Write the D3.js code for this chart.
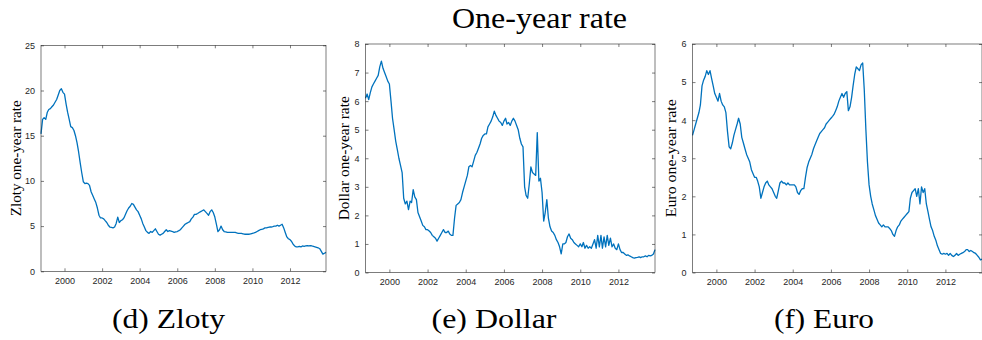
<!DOCTYPE html>
<html>
<head>
<meta charset="utf-8">
<script src="https://cdn.jsdelivr.net/npm/d3@7"></script>
<style>
  html, body { margin: 0; padding: 0; background: #fff; }
  .tick text { font-family: "Liberation Sans", Arial, sans-serif; font-size: 9px; fill: #262626; }
  .tick line { stroke: #262626; stroke-width: 0.6; }
</style>
</head>
<body>
<svg id="chart" width="982" height="340" style="display:block"></svg>
<script>
// Monthly observations, October 1998 through December 2013 (183 months).
const firstMonth = new Date(1998, 9, 1);
const lastMonth = new Date(2013, 11, 1);

const yearTicks = [2000, 2002, 2004, 2006, 2008, 2010, 2012];

// Zloty one-year rate (%)
const zloty = [
  /*1998*/ 15.2, 16.8, 17.0,
  /*1999*/ 16.8, 17.6, 17.9, 18.0, 18.2, 18.4, 18.7, 19.0, 19.5, 20.0, 20.2, 19.8,
  /*2000*/ 19.6, 18.5, 17.6, 16.8, 16.0, 15.9, 15.6, 15.0, 14.2, 13.2, 12.0, 10.9,
  /*2001*/ 9.9, 9.7, 9.75, 9.7, 9.5, 8.8, 8.4, 8.0, 7.6, 7.0, 6.2, 5.9,
  /*2002*/ 5.9, 5.8, 5.6, 5.4, 5.1, 4.9, 4.85, 4.8, 4.9, 5.3, 6.0, 5.4,
  /*2003*/ 5.6, 5.7, 5.9, 6.3, 6.7, 7.0, 7.2, 7.5, 7.4, 7.1, 6.8, 6.6,
  /*2004*/ 6.2, 5.8, 5.3, 4.9, 4.5, 4.3, 4.2, 4.4, 4.3, 4.5, 4.7, 4.4,
  /*2005*/ 4.1, 4.0, 4.1, 4.2, 4.4, 4.6, 4.4, 4.5, 4.45, 4.4, 4.3, 4.35,
  /*2006*/ 4.4, 4.5, 4.6, 4.8, 5.0, 5.2, 5.3, 5.4, 5.5, 5.8, 6.0, 6.3,
  /*2007*/ 6.3, 6.4, 6.5, 6.6, 6.7, 6.8, 6.6, 6.4, 6.2, 6.6, 6.8, 6.5,
  /*2008*/ 6.0, 5.2, 4.4, 4.6, 5.0, 4.6, 4.4, 4.35, 4.3, 4.3, 4.3, 4.3,
  /*2009*/ 4.3, 4.3, 4.25, 4.2, 4.2, 4.2, 4.15, 4.1, 4.1, 4.1, 4.1, 4.15,
  /*2010*/ 4.2, 4.25, 4.3, 4.4, 4.5, 4.6, 4.65, 4.7, 4.8, 4.8, 4.85, 4.9,
  /*2011*/ 4.9, 4.95, 5.0, 5.0, 5.1, 5.0, 5.1, 5.2, 4.8, 4.3, 3.8, 3.6,
  /*2012*/ 3.5, 3.3, 3.0, 2.8, 2.7, 2.7, 2.75, 2.7, 2.8, 2.75, 2.8, 2.85,
  /*2013*/ 2.8, 2.85, 2.8, 2.75, 2.7, 2.65, 2.6, 2.5, 2.2, 1.9, 2.0, 2.1
];

// Dollar one-year rate (%)
const dollar = [
  /*1998*/ 6.1, 6.25, 6.05,
  /*1999*/ 6.3, 6.5, 6.6, 6.7, 6.8, 6.9, 7.2, 7.4, 7.15, 7.0, 6.85, 6.7,
  /*2000*/ 6.6, 6.0, 5.4, 5.0, 4.6, 4.3, 4.0, 3.75, 3.5, 2.6, 2.4, 2.5,
  /*2001*/ 2.2, 2.5, 2.45, 2.9, 2.65, 2.55, 2.1, 1.95, 1.8, 1.65, 1.6, 1.5,
  /*2002*/ 1.5, 1.45, 1.4, 1.3, 1.25, 1.2, 1.1, 1.2, 1.3, 1.4, 1.5, 1.4,
  /*2003*/ 1.4, 1.45, 1.35, 1.3, 1.3, 1.9, 2.35, 2.4, 2.45, 2.55, 2.8, 3.0,
  /*2004*/ 3.2, 3.4, 3.7, 3.75, 3.7, 3.9, 4.1, 4.2, 4.35, 4.5, 4.7, 4.8,
  /*2005*/ 4.85, 4.85, 5.1, 5.2, 5.3, 5.45, 5.65, 5.5, 5.4, 5.3, 5.25, 5.15,
  /*2006*/ 5.3, 5.4, 5.2, 5.25, 5.15, 5.3, 5.4, 5.3, 5.15, 5.0, 4.7, 4.5,
  /*2007*/ 4.4, 3.0, 2.7, 2.6, 3.1, 3.7, 3.5, 3.45, 3.4, 4.9, 3.2, 3.3,
  /*2008*/ 2.8, 1.8, 2.1, 2.55, 1.9, 1.6, 1.45, 1.4, 1.3, 1.15, 1.05, 0.9,
  /*2009*/ 0.65, 1.0, 1.0, 1.05, 1.25, 1.35, 1.2, 1.15, 1.05, 1.0, 0.95, 0.9,
  /*2010*/ 1.0, 0.9, 1.05, 0.85, 0.95, 0.85, 0.9, 0.85, 1.0, 1.15, 0.85, 1.3,
  /*2011*/ 0.9, 1.3, 0.85, 1.25, 0.9, 1.3, 0.95, 1.2, 0.9, 1.0, 0.85, 0.8,
  /*2012*/ 1.0, 0.8, 0.7, 0.7, 0.65, 0.6, 0.62, 0.58, 0.55, 0.52, 0.5, 0.52,
  /*2013*/ 0.53, 0.55, 0.52, 0.55, 0.55, 0.58, 0.55, 0.6, 0.58, 0.6, 0.65, 0.8
];

// Euro one-year rate (%)
const euro = [
  /*1998*/ 3.6, 3.75, 3.9,
  /*1999*/ 4.05, 4.2, 4.4, 4.9, 5.05, 5.15, 5.3, 5.2, 5.3, 5.1, 4.9, 4.7,
  /*2000*/ 4.6, 4.5, 4.7, 4.5, 4.4, 4.35, 4.2, 3.7, 3.3, 3.25, 3.4, 3.6,
  /*2001*/ 3.75, 3.9, 4.05, 3.9, 3.55, 3.4, 3.25, 3.1, 3.0, 2.9, 2.7, 2.6,
  /*2002*/ 2.5, 2.5, 2.4, 2.25, 1.95, 2.1, 2.25, 2.35, 2.4, 2.3, 2.25, 2.2,
  /*2003*/ 2.1, 2.0, 1.95, 2.15, 2.35, 2.4, 2.35, 2.35, 2.3, 2.35, 2.3, 2.3,
  /*2004*/ 2.3, 2.3, 2.25, 2.1, 2.05, 2.15, 2.2, 2.2, 2.5, 2.75, 2.9, 3.0,
  /*2005*/ 3.1, 3.25, 3.35, 3.45, 3.55, 3.65, 3.7, 3.75, 3.8, 3.9, 3.95, 4.0,
  /*2006*/ 4.05, 4.1, 4.15, 4.25, 4.35, 4.5, 4.6, 4.7, 4.6, 4.7, 4.75, 4.25,
  /*2007*/ 4.35, 4.6, 4.9, 5.2, 5.4, 5.35, 5.3, 5.45, 5.5, 4.8, 3.75, 2.9,
  /*2008*/ 2.3, 2.0, 1.8, 1.65, 1.5, 1.4, 1.3, 1.25, 1.2, 1.25, 1.2, 1.2,
  /*2009*/ 1.2, 1.15, 1.1, 1.0, 0.95, 1.1, 1.2, 1.25, 1.35, 1.4, 1.45, 1.5,
  /*2010*/ 1.55, 1.6, 1.95, 2.1, 2.15, 2.2, 2.0, 2.2, 1.8, 2.25, 2.1, 2.2,
  /*2011*/ 1.8, 1.6, 1.4, 1.2, 1.1, 0.95, 0.85, 0.7, 0.6, 0.5, 0.48, 0.5,
  /*2012*/ 0.48, 0.5, 0.45, 0.5, 0.45, 0.42, 0.45, 0.5, 0.45, 0.48, 0.5, 0.52,
  /*2013*/ 0.55, 0.6, 0.6, 0.55, 0.58, 0.55, 0.52, 0.5, 0.45, 0.4, 0.33, 0.35
];

const months = d3.timeMonth.range(firstMonth, d3.timeMonth.offset(lastMonth, 1));

const panels = [
  { values: zloty,  yTicks: [0, 5, 10, 15, 20, 25], yMax: 25, ylabel: "Zloty one-year rate",  ylabelLen: 116,
    caption: "(d) Zloty",  captionLen: 113, captionX: 168.5,
    box: { left: 41, right: 326, top: 45.3, bottom: 271.3 }, ylabelX: 21 },
  { values: dollar, yTicks: [0, 1, 2, 3, 4, 5, 6, 7, 8], yMax: 8, ylabel: "Dollar one-year rate", ylabelLen: 124,
    caption: "(e) Dollar", captionLen: 125, captionX: 494,
    box: { left: 365.5, right: 655, top: 44, bottom: 272.5 }, ylabelX: 349 },
  { values: euro,   yTicks: [0, 1, 2, 3, 4, 5, 6], yMax: 6, ylabel: "Euro one-year rate",   ylabelLen: 118,
    caption: "(f) Euro",   captionLen: 100, captionX: 824,
    box: { left: 692.5, right: 982, top: 44, bottom: 272.5 }, ylabelX: 676 }
];

const svg = d3.select("#chart");
const plots = svg.append("g").attr("class", "plots");
const labels = svg.append("g").attr("class", "labels");
const lineColor = "#0072BD";
const axisColor = "#262626";
const tickLen = 3;

// Serif text whose width is fixed to len, placed with its centre at cx.
function serifText(parent, cx, y, size, len, str, rotate) {
  return parent.append("text")
    .attr("transform", `translate(${cx},${y})${rotate ? " rotate(-90)" : ""}`)
    .attr("x", -len / 2)
    .attr("y", 0)
    .attr("font-family", "Liberation Serif")
    .attr("font-size", size)
    .attr("font-weight", "normal")
    .attr("fill", "#000")
    .attr("textLength", len)
    .attr("lengthAdjust", "spacingAndGlyphs")
    .text(str);
}

panels.forEach(p => {
  const b = p.box;
  const x = d3.scaleTime().domain([firstMonth, lastMonth]).range([b.left, b.right]);
  const y = d3.scaleLinear().domain([0, p.yMax]).range([b.bottom, b.top]);
  const xTickDates = yearTicks.map(yr => new Date(yr, 0, 1));

  const g = plots.append("g");

  // series line
  const line = d3.line()
    .x((d, i) => x(months[i]))
    .y(d => y(d));
  g.append("path")
    .datum(p.values)
    .attr("fill", "none")
    .attr("stroke", lineColor)
    .attr("stroke-width", 1.3)
    .attr("stroke-linejoin", "round")
    .attr("d", line);

  // bottom axis with labels, ticks pointing inward
  g.append("g")
    .attr("transform", `translate(0,${b.bottom})`)
    .call(d3.axisBottom(x).tickValues(xTickDates).tickFormat(d3.timeFormat("%Y"))
      .tickSizeInner(-tickLen).tickSizeOuter(0).tickPadding(6))
    .call(a => a.select(".domain").remove());

  // top axis, ticks only
  g.append("g")
    .attr("transform", `translate(0,${b.top})`)
    .call(d3.axisTop(x).tickValues(xTickDates).tickFormat("")
      .tickSizeInner(-tickLen).tickSizeOuter(0))
    .call(a => a.select(".domain").remove());

  // left axis with labels
  g.append("g")
    .attr("transform", `translate(${b.left},0)`)
    .call(d3.axisLeft(y).tickValues(p.yTicks).tickFormat(d3.format("d"))
      .tickSizeInner(-tickLen).tickSizeOuter(0).tickPadding(6))
    .call(a => a.select(".domain").remove());

  // right axis, ticks only
  g.append("g")
    .attr("transform", `translate(${b.right},0)`)
    .call(d3.axisRight(y).tickValues(p.yTicks).tickFormat("")
      .tickSizeInner(-tickLen).tickSizeOuter(0))
    .call(a => a.select(".domain").remove());

  // frame
  g.append("rect")
    .attr("x", b.left).attr("y", b.top)
    .attr("width", b.right - b.left).attr("height", b.bottom - b.top)
    .attr("fill", "none").attr("stroke", axisColor).attr("stroke-width", 0.6);

  // y-axis title
  const cy = (b.top + b.bottom) / 2;
  serifText(labels, p.ylabelX, cy, 14, p.ylabelLen, p.ylabel, true);

  // panel caption
  serifText(labels, p.captionX, 328, 28, p.captionLen, p.caption, false);
});

// overall title
serifText(labels, 539.5, 28, 29, 175, "One-year rate", false);
</script>
</body>
</html>
